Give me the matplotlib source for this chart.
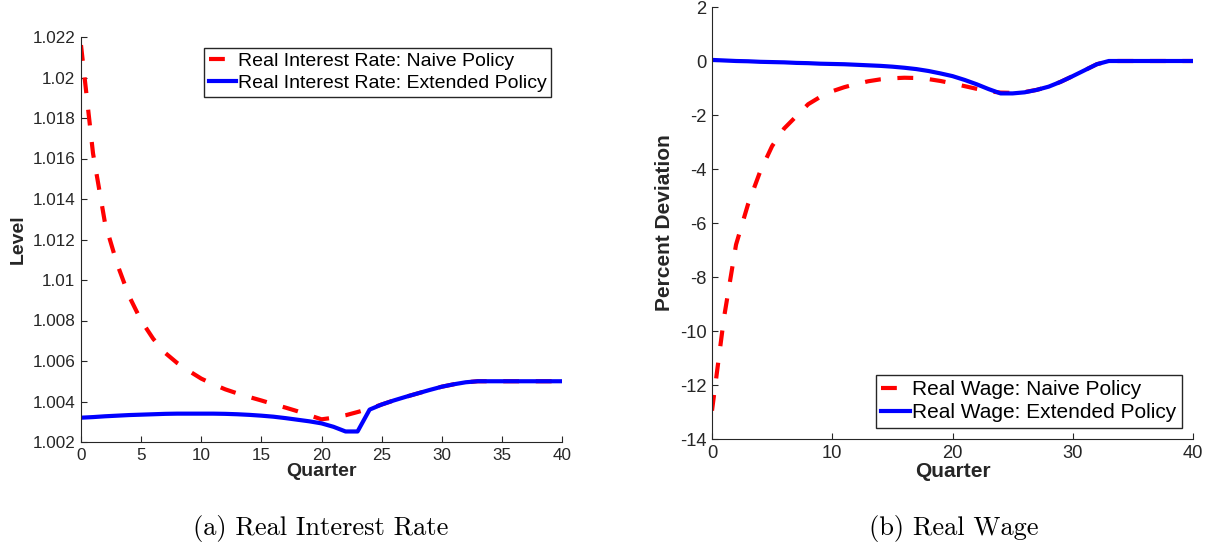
import numpy as np
import matplotlib
matplotlib.use('Agg')
import matplotlib.pyplot as plt

plt.rcParams['font.family'] = ['Liberation Sans', 'DejaVu Sans']
plt.rcParams['axes.unicode_minus'] = False

quarters = np.arange(0, 41)

# Real interest rate (level)
rate_naive = [1.0216, 1.01625, 1.0128, 1.0108, 1.0092, 1.0080, 1.0071, 1.0064,
              1.0059, 1.0055, 1.00513, 1.00485, 1.0046, 1.0044, 1.00422, 1.00405,
              1.00387, 1.0037, 1.00352, 1.00332, 1.00312, 1.0032, 1.00332, 1.00348,
              1.00365, 1.00385, 1.00405, 1.00423, 1.0044, 1.00457, 1.00473, 1.00485,
              1.00495, 1.0050, 1.0050, 1.0050, 1.0050, 1.0050, 1.0050, 1.0050, 1.0050]
rate_extended = [1.0032, 1.00323, 1.00327, 1.0033, 1.00333, 1.00335, 1.00337, 1.00339,
                 1.0034, 1.0034, 1.0034, 1.0034, 1.00339, 1.00337, 1.00334, 1.0033,
                 1.00325, 1.00318, 1.0031, 1.00302, 1.00292, 1.00275, 1.00252, 1.00252,
                 1.0036, 1.00385, 1.00405, 1.00423, 1.0044, 1.00457, 1.00473, 1.00485,
                 1.00495, 1.0050, 1.0050, 1.0050, 1.0050, 1.0050, 1.0050, 1.0050, 1.0050]

# Real wage (percent deviation)
wage_naive = [-12.95, -9.5, -6.8, -5.3, -4.1, -3.15, -2.5, -2.05, -1.6, -1.33,
              -1.12, -0.97, -0.85, -0.75, -0.68, -0.64, -0.62, -0.63, -0.67, -0.74,
              -0.83, -0.93, -1.03, -1.12, -1.17, -1.18, -1.15, -1.07, -0.95, -0.77,
              -0.56, -0.34, -0.12, 0.0, 0.0, 0.0, 0.0, 0.0, 0.0, 0.0, 0.0]
wage_extended = [0.04, 0.02, 0.0, -0.01, -0.03, -0.04, -0.05, -0.07, -0.08, -0.10,
                 -0.11, -0.12, -0.14, -0.16, -0.18, -0.21, -0.25, -0.30, -0.37, -0.46,
                 -0.56, -0.70, -0.86, -1.04, -1.20, -1.20, -1.16, -1.07, -0.95, -0.77,
                 -0.56, -0.34, -0.12, 0.0, 0.0, 0.0, 0.0, 0.0, 0.0, 0.0, 0.0]

fig = plt.figure(figsize=(12.12, 5.48), dpi=100)
ax1 = fig.add_axes([81/1212, 1-442/548, 481/1212, 405/548])
ax2 = fig.add_axes([712/1212, 1-439/548, 481/1212, 432/548])

axc = '#262626'
dash = (3.8, 4.0)


def style_axes(ax, size):
    ax.spines['top'].set_visible(False)
    ax.spines['right'].set_visible(False)
    for s in ['left', 'bottom']:
        ax.spines[s].set_color(axc)
        ax.spines[s].set_linewidth(0.8)
    ax.tick_params(direction='in', length=4, width=0.8, colors=axc,
                   labelsize=size * 0.88, pad=4)
    ax.set_xlim(0, 40)
    ax.set_xlabel('Quarter', fontsize=size, fontweight='bold', color=axc, labelpad=0)


def add_legend(ax, loc, size):
    ax.legend(loc=loc, fontsize=size, frameon=True, fancybox=False,
              edgecolor=axc, framealpha=1, borderpad=0.25, labelspacing=0.2,
              handlelength=1.4, handletextpad=0.1, borderaxespad=0.55)


ax1.plot(quarters, rate_naive, color='red', lw=3, ls=(0, dash),
         label='Real Interest Rate: Naive Policy')
ax1.plot(quarters, rate_extended, color='blue', lw=3,
         label='Real Interest Rate: Extended Policy')
style_axes(ax1, 14)
ax1.set_ylim(1.002, 1.022)
ax1.set_yticks(np.arange(1.002, 1.0221, 0.002))
ax1.set_yticklabels(['1.002', '1.004', '1.006', '1.008', '1.01', '1.012',
                     '1.014', '1.016', '1.018', '1.02', '1.022'])
ax1.set_xticks(np.arange(0, 41, 5))
ax1.set_ylabel('Level', fontsize=14, fontweight='bold', color=axc)
add_legend(ax1, 'upper right', 14)

ax2.plot(quarters, wage_naive, color='red', lw=3, ls=(0, dash),
         label='Real Wage: Naive Policy')
ax2.plot(quarters, wage_extended, color='blue', lw=3,
         label='Real Wage: Extended Policy')
style_axes(ax2, 15)
ax2.set_ylim(-14, 2)
ax2.set_yticks(np.arange(-14, 3, 2))
ax2.set_xticks(np.arange(0, 41, 10))
ax2.set_ylabel('Percent Deviation', fontsize=15, fontweight='bold', color=axc)
add_legend(ax2, 'lower right', 15)

fig.text(321/1212, 1-535/548, '(a) Real Interest Rate', family='cmr10',
         fontsize=19, ha='center', va='baseline')
fig.text(954/1212, 1-535/548, '(b) Real Wage', family='cmr10',
         fontsize=19, ha='center', va='baseline')

fig.savefig('out.png', dpi=100)
